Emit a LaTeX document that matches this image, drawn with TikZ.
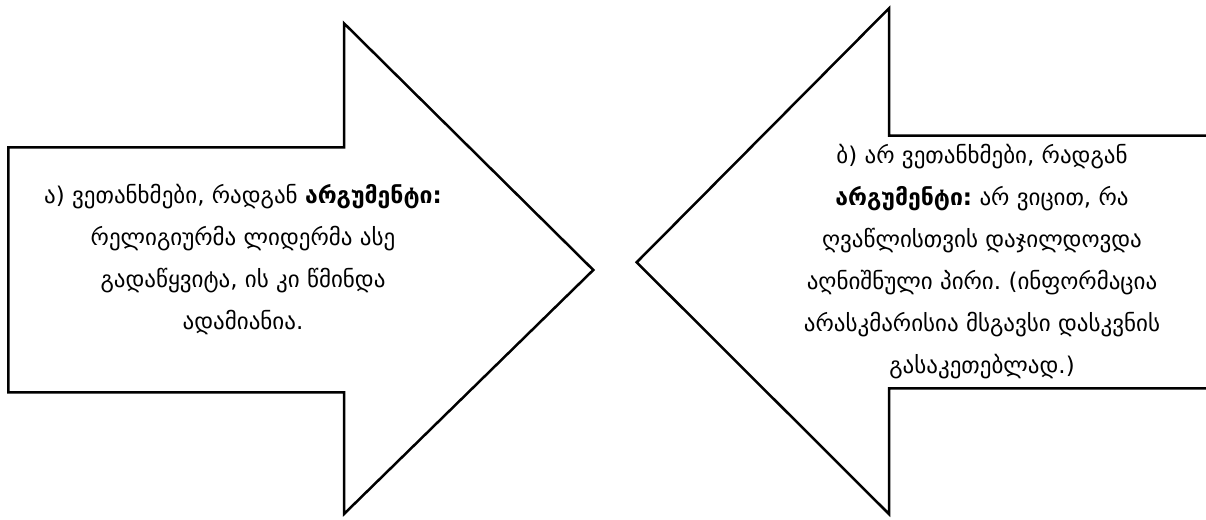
\documentclass[tikz,border=0pt]{standalone}
\usepackage{fontspec}
\setmainfont{DejaVu Sans}
\frenchspacing
\begin{document}
\begin{tikzpicture}[x=1pt,y=-1pt,
  arrowshape/.style={draw=black,line width=2.5pt,line join=miter,fill=white},
  txt/.style={align=center,font=\fontsize{23}{42}\selectfont,inner sep=0pt}]
\clip (0,0) rectangle (1206,519);
\fill[white] (0,0) rectangle (1206,519);
\draw[arrowshape] (8.3,147.3) -- (344,147.3) -- (344,23.3) -- (593.3,270) -- (344,514) -- (344,392.3) -- (8.3,392.3) -- cycle;
\draw[arrowshape] (1230,135.7) -- (889,135.7) -- (889,8.3) -- (636.7,262.3) -- (889,514) -- (889,388.3) -- (1230,388.3);
\node[txt] (left) at (243,260) {ა) ვეთანხმები, რადგან \textbf{არგუმენტი:}\\ რელიგიურმა ლიდერმა ასე\\ გადაწყვიტა, ის კი წმინდა\\ ადამიანია.};
\node[txt] (right) at (982,262) {ბ) არ ვეთანხმები, რადგან\\ \textbf{არგუმენტი:} არ ვიცით, რა\\ ღვაწლისთვის დაჯილდოვდა\\ აღნიშნული პირი. (ინფორმაცია\\ არასკმარისია მსგავსი დასკვნის\\ გასაკეთებლად.)};
\end{tikzpicture}
\end{document}
